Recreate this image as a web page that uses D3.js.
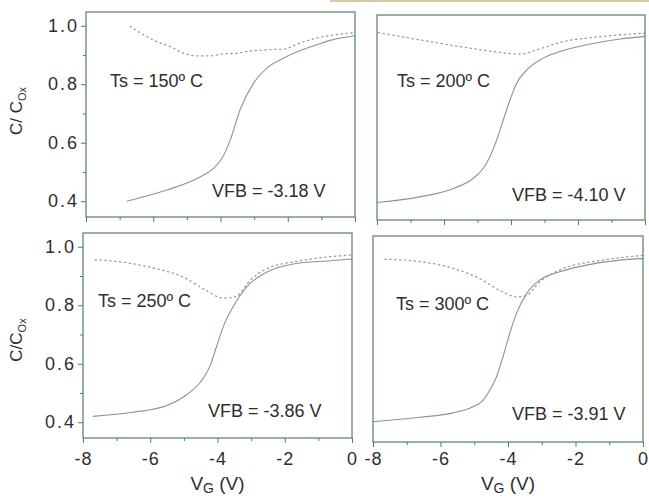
<!DOCTYPE html>
<html><head><meta charset="utf-8">
<script src="https://cdn.jsdelivr.net/npm/d3@7/dist/d3.min.js"></script>
<style>body{margin:0;background:#fff}svg{display:block}text{font-family:"Liberation Sans",Arial,sans-serif;fill:#2e2e2e}</style>
</head><body><svg id="c" width="649" height="498"></svg>
<script>
// ---- data ----
const xTicks = [-8, -6, -4, -2, 0];
const xMinorTicks = [-7, -5, -3, -1];
const yTicks = [0.4, 0.6, 0.8, 1.0];
const yMinorTicks = [0.5, 0.7, 0.9];
const yTickLabels = ["0.4", "0.6", "0.8", "1.0"];
const panelTemps = ["Ts = 150º C", "Ts = 200º C", "Ts = 250º C", "Ts = 300º C"];
const panelVfb = ["VFB = -3.18 V", "VFB = -4.10 V", "VFB = -3.86 V", "VFB = -3.91 V"];

// Ts = 150 C
const ts150SolidV = [-6.79, -5.60, -4.61, -4.21, -3.96, -3.71, -3.42, -3.02, -2.62, -2.13, -1.63, -1.13, -0.74, 0];
const ts150SolidC = [0.400, 0.438, 0.483, 0.512, 0.546, 0.609, 0.712, 0.803, 0.855, 0.889, 0.915, 0.935, 0.950, 0.966];
const ts150DotV = [-6.69, -6.29, -5.90, -5.50, -5.10, -4.71, -4.31, -3.91, -3.51, -3.22, -2.62, -2.13, -1.63, -1.13, 0];
const ts150DotC = [0.998, 0.969, 0.946, 0.929, 0.906, 0.897, 0.897, 0.904, 0.906, 0.912, 0.918, 0.920, 0.941, 0.958, 0.976];
// Ts = 200 C
const ts200SolidV = [-8.0, -6.72, -5.72, -5.13, -4.83, -4.63, -4.43, -4.23, -4.03, -3.83, -3.53, -3.13, -2.54, -1.74, -0.75, 0];
const ts200SolidC = [0.406, 0.425, 0.454, 0.488, 0.522, 0.562, 0.619, 0.688, 0.757, 0.814, 0.859, 0.894, 0.922, 0.945, 0.965, 0.974];
const ts200DotV = [-7.96, -6.72, -5.52, -4.52, -3.73, -3.23, -2.54, -1.24, 0];
const ts200DotC = [0.987, 0.962, 0.939, 0.922, 0.913, 0.928, 0.953, 0.974, 0.985];
// Ts = 250 C
const ts250SolidV = [-7.71, -6.51, -5.51, -4.92, -4.53, -4.23, -4.03, -3.83, -3.54, -3.14, -2.54, -1.75, -0.66, 0];
const ts250SolidC = [0.420, 0.434, 0.457, 0.494, 0.534, 0.590, 0.658, 0.726, 0.794, 0.862, 0.913, 0.941, 0.952, 0.958];
const ts250DotV = [-7.64, -7.0, -6.01, -5.02, -4.33, -3.83, -3.44, -3.04, -2.55, -1.55, 0];
const ts250DotC = [0.955, 0.950, 0.930, 0.896, 0.850, 0.824, 0.830, 0.884, 0.924, 0.952, 0.972];
// Ts = 300 C
const ts300SolidV = [-8.0, -6.62, -5.63, -5.04, -4.74, -4.54, -4.34, -4.15, -3.95, -3.75, -3.45, -3.06, -2.47, -1.68, -0.69, 0];
const ts300SolidC = [0.415, 0.430, 0.445, 0.466, 0.488, 0.522, 0.568, 0.636, 0.715, 0.783, 0.851, 0.897, 0.925, 0.948, 0.965, 0.970];
const ts300DotV = [-7.65, -6.62, -5.63, -4.84, -4.25, -3.75, -3.46, -3.06, -2.47, -1.19, 0];
const ts300DotC = [0.968, 0.960, 0.937, 0.902, 0.862, 0.840, 0.845, 0.891, 0.931, 0.965, 0.981];

// ---- layout ----
const panels = [
  {l: 86, r: 355, t: 12, b: 217, solid: [ts150SolidV, ts150SolidC], dot: [ts150DotV, ts150DotC], yLabels: true, xLabels: false,
   ts: [110, 87], vfb: [212, 197], ytitle: "C/ C", ytc: 111},
  {l: 377, r: 645, t: 15, b: 220, solid: [ts200SolidV, ts200SolidC], dot: [ts200DotV, ts200DotC], yLabels: false, xLabels: false,
   ts: [397, 87], vfb: [512, 201]},
  {l: 83, r: 352, t: 233, b: 438, solid: [ts250SolidV, ts250SolidC], dot: [ts250DotV, ts250DotC], yLabels: true, xLabels: true,
   ts: [98, 307], vfb: [208, 417], ytitle: "C/C", ytc: 340},
  {l: 373, r: 643, t: 236, b: 442, solid: [ts300SolidV, ts300SolidC], dot: [ts300DotV, ts300DotC], yLabels: false, xLabels: true,
   ts: [396, 310], vfb: [512, 420]}
];
const yDomain = [0.346, 1.047];
const frameColor = "#557d62";
const svg = d3.select("#c");

// scan artifact strip at the top
svg.append("rect").attr("x", 330).attr("y", 0).attr("width", 319).attr("height", 2).attr("fill", "#d9c9a2");

panels.forEach((p, i) => {
  const x = d3.scaleLinear().domain([-8, 0]).range([p.l, p.r]);
  const y = d3.scaleLinear().domain(yDomain).range([p.b, p.t]);
  const g = svg.append("g");

  // curves
  const line = d3.line().x(d => x(d[0])).y(d => y(d[1])).curve(d3.curveMonotoneX);
  const dotPts = p.dot[0].map((v, k) => [v, p.dot[1][k]]);
  const solPts = p.solid[0].map((v, k) => [v, p.solid[1][k]]);
  g.append("path").attr("d", line(dotPts)).attr("fill", "none").attr("stroke", "#9a9a9a")
    .attr("stroke-width", 1.3).attr("stroke-dasharray", "1.3,3.6").attr("stroke-linecap", "round");
  g.append("path").attr("d", line(solPts)).attr("fill", "none").attr("stroke", "#7f9c8c").attr("stroke-width", 1.1);

  // frame
  g.append("rect").attr("x", p.l).attr("y", p.t).attr("width", p.r - p.l).attr("height", p.b - p.t)
    .attr("fill", "none").attr("stroke", frameColor).attr("stroke-width", 1.2);

  // x axis ticks
  const xa = d3.axisBottom(x).tickValues(xTicks).tickSize(5).tickFormat(d3.format("d"));
  const xg = g.append("g").attr("transform", `translate(0,${p.b})`).call(xa);
  xg.select(".domain").remove();
  xg.selectAll("line").attr("stroke", frameColor);
  if (p.xLabels) {
    xg.selectAll("text").attr("font-size", 18).attr("fill", "#2a2a2a").attr("dy", null).attr("y", 465 - p.b)
      .attr("font-family", "Liberation Sans, Arial, sans-serif").style("letter-spacing", "1px")
      .text(d => String(d));
  } else {
    xg.selectAll("text").remove();
  }
  const xm = d3.axisBottom(x).tickValues(xMinorTicks).tickSize(3).tickFormat("");
  const xmg = g.append("g").attr("transform", `translate(0,${p.b})`).call(xm);
  xmg.select(".domain").remove();
  xmg.selectAll("line").attr("stroke", frameColor);

  // y axis ticks
  if (p.yLabels) {
    const ya = d3.axisLeft(y).tickValues(yTicks).tickSize(5).tickFormat((d, k) => yTickLabels[k]);
    const yg = g.append("g").attr("transform", `translate(${p.l},0)`).call(ya);
    yg.select(".domain").remove();
    yg.selectAll("line").attr("stroke", frameColor);
    yg.selectAll("text").attr("font-size", 18).attr("fill", "#2a2a2a").attr("x", -7)
      .attr("font-family", "Liberation Sans, Arial, sans-serif").style("letter-spacing", "2px");
    const ym = d3.axisLeft(y).tickValues(yMinorTicks).tickSize(3).tickFormat("");
    const ymg = g.append("g").attr("transform", `translate(${p.l},0)`).call(ym);
    ymg.select(".domain").remove();
    ymg.selectAll("line").attr("stroke", frameColor);

    // y title
    const t = g.append("text").attr("transform", `translate(22,${p.ytc}) rotate(-90)`)
      .attr("text-anchor", "middle").attr("font-size", 17);
    t.append("tspan").text(p.ytitle);
    t.append("tspan").attr("font-size", 11).attr("dy", 4).text("Ox");
  }

  // x title
  if (p.xLabels) {
    const t = g.append("text").attr("x", (p.l + p.r) / 2).attr("y", 490).attr("text-anchor", "middle").attr("font-size", 19);
    t.append("tspan").text("V");
    t.append("tspan").attr("font-size", 14).attr("dy", 3).text("G");
    t.append("tspan").attr("dy", -3).text(" (V)");
  }

  // annotations
  g.append("text").attr("x", p.ts[0]).attr("y", p.ts[1]).attr("font-size", 18).text(panelTemps[i]);
  g.append("text").attr("x", p.vfb[0]).attr("y", p.vfb[1]).attr("font-size", 18).text(panelVfb[i]);
});
</script></body></html>
